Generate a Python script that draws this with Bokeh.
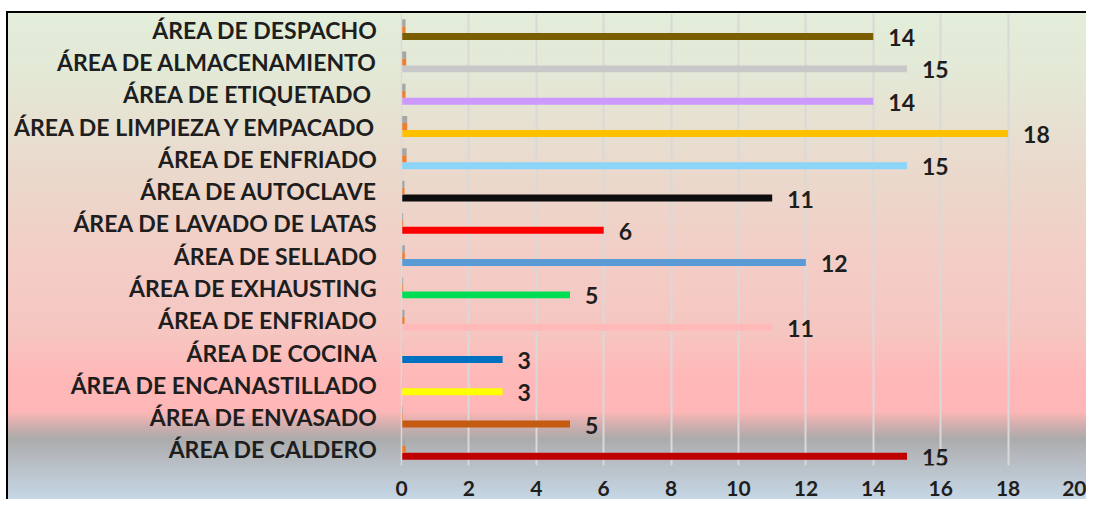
from bokeh.plotting import figure
from bokeh.models import ColumnDataSource, FixedTicker, LabelSet
from bokeh.transform import dodge
from bokeh.core.properties import value
from bokeh.embed import file_html
from bokeh.resources import INLINE

# categories bottom -> top
categories = [
    "ÁREA DE CALDERO",
    "ÁREA DE ENVASADO",
    "ÁREA DE ENCANASTILLADO",
    "ÁREA DE COCINA",
    "ÁREA DE ENFRIADO",
    "ÁREA DE EXHAUSTING",
    "ÁREA DE SELLADO",
    "ÁREA DE LAVADO DE LATAS",
    "ÁREA DE AUTOCLAVE",
    "ÁREA DE ENFRIADO",
    "ÁREA DE LIMPIEZA Y EMPACADO",
    "ÁREA DE ETIQUETADO ",
    "ÁREA DE ALMACENAMIENTO",
    "ÁREA DE DESPACHO",
]
counts = [15, 5, 3, 3, 11, 5, 12, 6, 11, 15, 18, 14, 15, 14]
share_orange = [0.13, 0.04, 0.02, 0.02, 0.09, 0.05, 0.10, 0.05, 0.09, 0.15, 0.17, 0.12, 0.14, 0.12]
share_gray = [0.10, 0.04, 0.02, 0.02, 0.09, 0.05, 0.10, 0.05, 0.09, 0.15, 0.17, 0.12, 0.14, 0.12]
bar_colors = [
    "#C00000", "#C55A11", "#FFFF00", "#0070C0", "#FFB9B9", "#00DD55", "#5B9BD5",
    "#FF0000", "#0D0D0D", "#8BD5F9", "#FFC000", "#CC99FF", "#C8C8C8", "#7A5E00",
]
x_ticks = [0, 2, 4, 6, 8, 10, 12, 14, 16, 18, 20]

positions = list(range(1, len(categories) + 1))
src = ColumnDataSource(dict(
    y=positions,
    count=counts,
    orange=share_orange,
    gray=share_gray,
    color=bar_colors,
    label=[str(c) for c in counts],
))

FONT = "Lato"
TXT = "#1E1E1E"
BW = 0.215

p = figure(
    width=1086, height=499,
    x_range=(0, 20), y_range=(0.5, len(categories) + 0.5),
    output_backend="svg", toolbar_location=None,
    min_border_left=401, min_border_right=11, min_border_top=13, min_border_bottom=34,
)
p.background_fill_color = None
p.border_fill_color = None
p.outline_line_color = None

grad = ("linear-gradient(to bottom, #E2EDDA 0px, #E3EAD7 51px, #EAD9CC 159px, #F3CDC6 247px, "
        "#F6C6C1 320px, #FFB8B8 363px, #FFB6B6 398px, #C9ADAD 415px, #ABABAB 426px, "
        "#B5B9BE 443px, #C8DBEB 492px)")
p.styles = {
    "background": (
        "linear-gradient(#000000, #000000) 6px 11px / 100% 2px no-repeat, "
        "linear-gradient(#000000, #000000) 6px 11px / 2px 100% no-repeat, "
        + grad + " 8px 13px / 100% 100% no-repeat, #FFFFFF"
    ),
}

p.hbar(y=dodge("y", -BW, range=p.y_range), left=0, right="count", height=BW,
       fill_color="color", line_color=None, source=src)
p.hbar(y=dodge("y", 0, range=p.y_range), left=0, right="orange", height=BW,
       fill_color="#ED7D31", line_color=None, source=src)
p.hbar(y=dodge("y", BW, range=p.y_range), left=0, right="gray", height=BW,
       fill_color="#A5A5A5", line_color=None, source=src)

labels = LabelSet(x="count", y=dodge("y", -BW, range=p.y_range), text="label", source=src,
                  x_offset=15, y_offset=-1, text_align="left", text_baseline="middle",
                  text_font=value(FONT), text_font_style="bold", text_font_size="23px",
                  text_color=TXT)
p.add_layout(labels)

p.xaxis.ticker = FixedTicker(ticks=x_ticks)
p.xaxis.axis_line_color = None
p.xaxis.major_tick_line_color = None
p.xaxis.minor_tick_line_color = None
p.xaxis.major_label_text_font = FONT
p.xaxis.major_label_text_font_style = "bold"
p.xaxis.major_label_text_font_size = "21px"
p.xaxis.major_label_text_color = TXT
p.xaxis.major_label_standoff = 9

p.yaxis.ticker = FixedTicker(ticks=positions)
p.yaxis.major_label_overrides = {pos: name for pos, name in zip(positions, categories)}
p.yaxis.axis_line_color = "#D9D9D9"
p.yaxis.axis_line_width = 1.5
p.yaxis.major_tick_line_color = None
p.yaxis.minor_tick_line_color = None
p.yaxis.major_label_text_font = FONT
p.yaxis.major_label_text_font_style = "bold"
p.yaxis.major_label_text_font_size = "23px"
p.yaxis.major_label_text_color = TXT
p.yaxis.major_label_standoff = 18

p.xgrid.ticker = FixedTicker(ticks=x_ticks)
p.xgrid.grid_line_color = "#D9D9D9"
p.xgrid.grid_line_width = 2
p.ygrid.grid_line_color = None

open("out.html", "w").write(file_html(p, INLINE))
